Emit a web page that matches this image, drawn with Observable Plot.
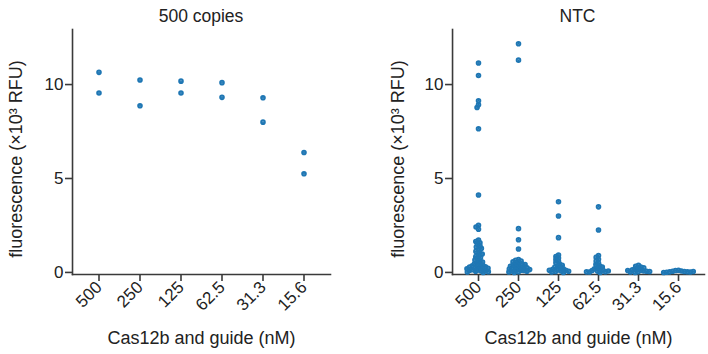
<!DOCTYPE html>
<html><head><meta charset="utf-8">
<script src="https://cdn.jsdelivr.net/npm/d3@7"></script>
<script src="https://cdn.jsdelivr.net/npm/@observablehq/plot@0.6"></script>
<style>
body{margin:0;background:#fff;font-family:"Liberation Sans",Arial,sans-serif;}
#wrap{display:flex;width:708px;height:354px;}
.panel{position:relative;width:354px;height:354px;}
.title{position:absolute;top:5px;font-size:17.5px;line-height:22px;color:#222;text-align:center;}
</style></head><body><div id="wrap"></div>
<script>
const concentrations = ["500","250","125","62.5","31.3","15.6"];
// 500 copies, two replicates (x10^3 RFU)
const copiesRep1 = [10.65, 10.24, 10.18, 10.1, 9.3, 6.38];
const copiesRep2 = [9.55, 8.87, 9.55, 9.32, 8.0, 5.25];
// NTC replicates per concentration (x10^3 RFU)
const ntc500 = [11.15, 10.48, 9.14, 8.92, 8.78, 7.65, 4.12, 2.51, 2.42, 2.3,
  1.72, 1.65, 1.58, 1.5, 1.42, 1.35, 1.28, 1.2, 1.12, 1.05, 0.98, 0.9, 0.84, 0.78, 0.72, 0.66, 0.6, 0.55, 0.5, 0.46,
  0.42, 0.38, 0.35, 0.32, 0.3, 0.28, 0.26, 0.24, 0.22, 0.2, 0.18, 0.16, 0.14, 0.12, 0.1, 0.08, 0.06, 0.04, 0.02, 0.0];
const ntc250 = [12.17, 11.3, 2.33, 1.74, 1.25, 0.68, 0.64, 0.6, 0.56, 0.52, 0.48, 0.45, 0.42, 0.39, 0.36, 0.33,
  0.3, 0.28, 0.26, 0.24, 0.22, 0.2, 0.18, 0.16, 0.14, 0.12, 0.1, 0.08, 0.06, 0.04, 0.02, 0.0];
const ntc125 = [3.76, 3.0, 1.85, 0.93, 0.85, 0.77, 0.69, 0.6, 0.52, 0.45, 0.38, 0.32, 0.28, 0.24, 0.2, 0.17,
  0.14, 0.11, 0.08, 0.05, 0.02, 0.0, 0.12, 0.06];
const ntc62 = [3.49, 2.26, 0.9, 0.8, 0.7, 0.6, 0.5, 0.42, 0.35, 0.29, 0.24, 0.2, 0.16, 0.13, 0.1, 0.07, 0.04,
  0.02, 0.0, 0.08, 0.03];
const ntc31 = [0.38, 0.33, 0.28, 0.24, 0.2, 0.17, 0.14, 0.11, 0.08, 0.06, 0.04, 0.02, 0.0, 0.1, 0.05];
const ntc15 = [0.12, 0.1, 0.08, 0.06, 0.05, 0.04, 0.03, 0.02, 0.01, 0.0, 0.05];
const titles = ["500 copies", "NTC"];
const yLabel = "fluorescence (×10³ RFU)";
const xLabel = "Cas12b and guide (nM)";
const yTicks = [0, 5, 10];

const copiesData = [];
concentrations.forEach((c, i) => {
  copiesData.push({conc: c, value: copiesRep1[i]});
  copiesData.push({conc: c, value: copiesRep2[i]});
});
const ntcData = [];
[ntc500, ntc250, ntc125, ntc62, ntc31, ntc15].forEach((arr, i) =>
  arr.forEach(v => ntcData.push({conc: concentrations[i], value: v})));

const axisColor = "#3a3a3a";
const dotColor = "#1f77b4";
const paddingOuter = 0.146;
function panel(data, title, marginLeft, marginRight, yLabelDx) {
  const div = document.createElement("div");
  div.className = "panel";
  const frameW = 354 - marginLeft - marginRight;
  const step = frameW / (concentrations.length + 2 * paddingOuter);
  const shift = -paddingOuter * step; // from first facet edge to frame edge
  const chart = Plot.plot({
    width: 354, height: 354,
    marginTop: 29, marginBottom: 80, marginLeft, marginRight,
    style: {fontFamily: '"Liberation Sans", Arial, sans-serif', fontSize: "17px", color: "#222", background: "#fff"},
    fx: {domain: concentrations, paddingInner: 0, paddingOuter, label: null},
    y: {domain: [-0.11, 12.93]},
    marks: [
      Plot.frame({anchor: "left", facet: "super", stroke: axisColor, strokeWidth: 1.6, dx: shift}),
      Plot.frame({anchor: "bottom", facet: "super", stroke: axisColor, strokeWidth: 1.6, insetLeft: shift, insetRight: shift}),
      Plot.axisY({ticks: yTicks, tickSize: 7, tickPadding: 2, stroke: axisColor, strokeWidth: 1.6, dx: shift, label: null}),
      Plot.axisFx({anchor: "bottom", tickRotate: -45, tickSize: 7, tickPadding: 3, stroke: axisColor, strokeWidth: 1.6, label: null}),
      Plot.text([yLabel], {facet: "super", frameAnchor: "left", rotate: -90, fontSize: 18, dx: yLabelDx, dy: 7, textAnchor: "middle", lineAnchor: "middle", fill: "#222"}),
      Plot.text([xLabel], {facet: "super", frameAnchor: "bottom", fontSize: 18, dy: 64, lineAnchor: "middle", fill: "#222"}),
      Plot.dot(data, Plot.dodgeX("middle", {fx: "conc", y: "value", r: 1.0, padding: 0, fill: dotColor, stroke: dotColor, strokeWidth: 3.6}))
    ]
  });
  div.appendChild(chart);
  const t = document.createElement("div");
  t.className = "title";
  t.textContent = title;
  t.style.left = marginLeft + "px";
  t.style.width = frameW + "px";
  div.appendChild(t);
  return div;
}
const wrap = document.getElementById("wrap");
wrap.appendChild(panel(copiesData, titles[0], 72, 24, -62));
wrap.appendChild(panel(ntcData, titles[1], 95, 2, -60));
</script></body></html>
